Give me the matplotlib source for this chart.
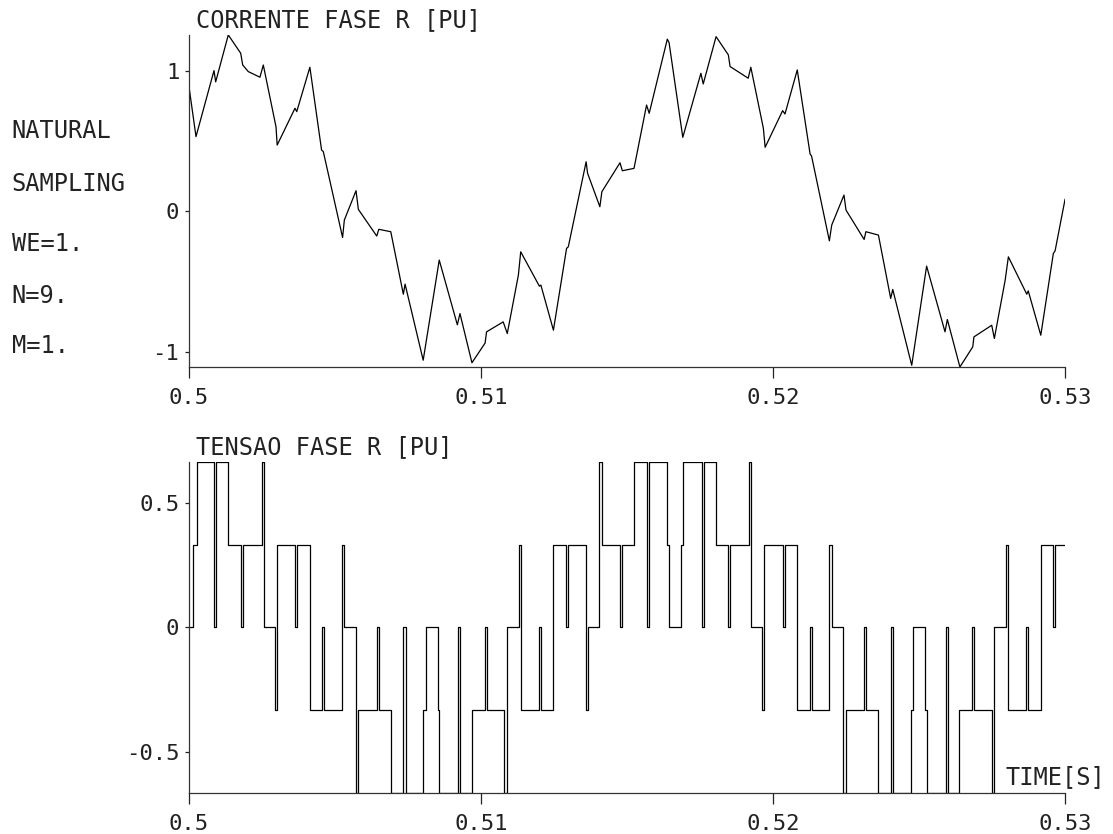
import numpy as np
import matplotlib
matplotlib.use("Agg")
import matplotlib.pyplot as plt

# corrente fase R: vertices (t in ms after 0.5 s, pu)
i_t_ms = [0, 0.24, 0.856, 0.914, 1.346, 1.77, 1.84, 2.03, 2.43, 2.545, 2.98, 3.02,
          3.63, 3.69, 4.14, 4.54, 4.60, 5.26, 5.32, 5.72, 5.80, 6.43, 6.50, 6.91,
          7.34, 7.40, 8.02, 8.57, 9.19, 9.28, 9.69, 10.14, 10.19, 10.76, 10.90,
          11.28, 11.36, 12.0, 12.05, 12.48, 12.93, 12.99, 13.6, 13.65, 14.07,
          14.14, 14.76, 14.84, 15.24, 15.67, 15.76, 16.38, 16.44, 16.91, 17.53,
          17.61, 18.05, 18.47, 18.53, 19.15, 19.24, 19.67, 19.73, 20.33, 20.41,
          20.83, 21.27, 21.32, 21.93, 22.01, 22.43, 22.5, 23.12, 23.18, 23.61,
          24.03, 24.10, 24.75, 25.26, 25.89, 25.97, 26.40, 26.84, 26.88, 27.49,
          27.58, 27.95, 28.06, 28.69, 28.74, 29.17, 29.60, 29.66, 30.0]
i_pu = [0.886, 0.53, 1.0, 0.92, 1.254, 1.124, 1.04, 0.993, 0.953, 1.04, 0.60, 0.47,
        0.732, 0.708, 1.024, 0.435, 0.423, -0.188, -0.064, 0.145, 0.012, -0.178,
        -0.13, -0.147, -0.592, -0.52, -1.062, -0.349, -0.81, -0.73, -1.08, -0.94,
        -0.86, -0.789, -0.872, -0.456, -0.29, -0.535, -0.527, -0.848, -0.266,
        -0.254, 0.351, 0.269, 0.031, 0.138, 0.344, 0.287, 0.304, 0.755, 0.696,
        1.224, 1.2, 0.525, 0.981, 0.905, 1.242, 1.112, 1.029, 0.946, 1.024, 0.589,
        0.454, 0.715, 0.691, 1.005, 0.406, 0.392, -0.212, -0.1, 0.114, 0.007,
        -0.202, -0.147, -0.171, -0.622, -0.558, -1.098, -0.392, -0.86, -0.772,
        -1.11, -0.967, -0.896, -0.813, -0.907, -0.492, -0.326, -0.592, -0.568,
        -0.884, -0.302, -0.283, 0.083]

# tensao fase R: switching instants (ms after 0.5 s) and level (multiples of 1/3 pu)
v_t_ms = [0, 0.147, 0.264, 0.866, 0.935, 1.325, 1.781, 1.860, 2.490, 2.558,
          2.945, 3.014, 3.630, 3.699, 4.144, 4.545, 4.623, 5.250, 5.318, 5.709,
          5.798, 6.428, 6.497, 6.908, 7.339, 7.421, 8.024, 8.116, 8.517, 8.572,
          9.223, 9.291, 9.682, 10.137, 10.205, 10.798, 10.890, 11.301, 11.370,
          11.986, 12.055, 12.476, 12.911, 12.979, 13.596, 13.664, 14.051, 14.144,
          14.760, 14.829, 15.240, 15.695, 15.764, 16.360, 16.449, 16.839, 16.908,
          17.558, 17.627, 18.058, 18.469, 18.538, 19.178, 19.247, 19.634, 19.702,
          20.332, 20.401, 20.832, 21.257, 21.325, 21.928, 22.031, 22.408, 22.500,
          23.116, 23.185, 23.606, 24.031, 24.120, 24.716, 24.805, 25.205, 25.284,
          25.914, 25.983, 26.370, 26.825, 26.894, 27.510, 27.579, 27.969, 28.038,
          28.675, 28.743, 29.178, 29.599, 29.658, 30.0]
v_level = [0, 1, 2, 0, 2, 1, 0, 1, 2, 0,
           -1, 1, 0, 1, -1, 0, -1, 1, 0, -2,
           -1, 0, -1, -2, 0, -2, -1, 0, -1, -2,
           0, -2, -1, 0, -1, -2, 0, 1, -1,
           0, -1, 1, 0, 1, -1, 0, 2, 1,
           0, 1, 2, 0, 2, 1, 0, 1, 2,
           0, 2, 1, 0, 1, 2, 0, -1, 1,
           0, 1, -1, 0, -1, 1, 0, -2, -1,
           0, -1, -2, 0, -2, -1, 0, -1, -2,
           0, -2, -1, 0, -1, -2, 0, 1, -1,
           0, -1, 1, 0, 1, 1]

x_ticks = [0.5, 0.51, 0.52, 0.53]
x_labels = ["0.5", "0.51", "0.52", "0.53"]
top_yticks = [1, 0, -1]
top_ylabels = ["1", "0", "-1"]
bot_yticks = [0.5, 0, -0.5]
bot_ylabels = ["0.5", "0", "-0.5"]
notes = ["NATURAL", "SAMPLING", "WE=1.", "N=9.", "M=1."]
notes_y = [0.843, 0.779, 0.708, 0.645, 0.585]

ti = 0.5 + np.array(i_t_ms) / 1000.0
tv = 0.5 + np.array(v_t_ms) / 1000.0
v = np.array(v_level) / 3.0

plt.rcParams['font.family'] = ['DejaVu Sans Mono']
fig = plt.figure(figsize=(11.13, 8.34), dpi=100)
ax1 = fig.add_axes([0.1698, 0.5600, 0.7871, 0.3981])
ax2 = fig.add_axes([0.1698, 0.0492, 0.7871, 0.3969])

ax1.plot(ti, i_pu, color='black', lw=0.9)
ax2.step(tv, v, where='post', color='black', lw=0.9)

for ax in (ax1, ax2):
    ax.set_xlim(0.5, 0.53)
    for s in ('top', 'right'):
        ax.spines[s].set_visible(False)
    for s in ('left', 'bottom'):
        ax.spines[s].set_linewidth(0.9)
        ax.spines[s].set_color('#333333')
    ax.set_xticks(x_ticks)
    ax.set_xticklabels(x_labels)
    ax.tick_params(axis='x', direction='out', length=8, width=0.9, pad=7,
                   labelsize=16, colors='#222222')
    ax.tick_params(axis='y', direction='out', length=3, width=0.9, pad=4,
                   labelsize=16, colors='#222222')

ax1.set_ylim(min(i_pu), max(i_pu))
ax1.set_yticks(top_yticks)
ax1.set_yticklabels(top_ylabels)
ax2.set_ylim(-2 / 3, 2 / 3)
ax2.set_yticks(bot_yticks)
ax2.set_yticklabels(bot_ylabels)

ax1.text(0.008, 1.01, "CORRENTE FASE R [PU]", transform=ax1.transAxes,
         ha='left', va='bottom', fontsize=17, color='#222222')
ax2.text(0.008, 1.01, "TENSAO FASE R [PU]", transform=ax2.transAxes,
         ha='left', va='bottom', fontsize=17, color='#222222')
ax2.text(1.046, 0.012, "TIME[S]", transform=ax2.transAxes,
         ha='right', va='bottom', fontsize=17, color='#222222')

for txt, y in zip(notes, notes_y):
    fig.text(0.0105, y, txt, ha='left', va='center', fontsize=17, color='#222222')

fig.savefig("out.png", dpi=100)
